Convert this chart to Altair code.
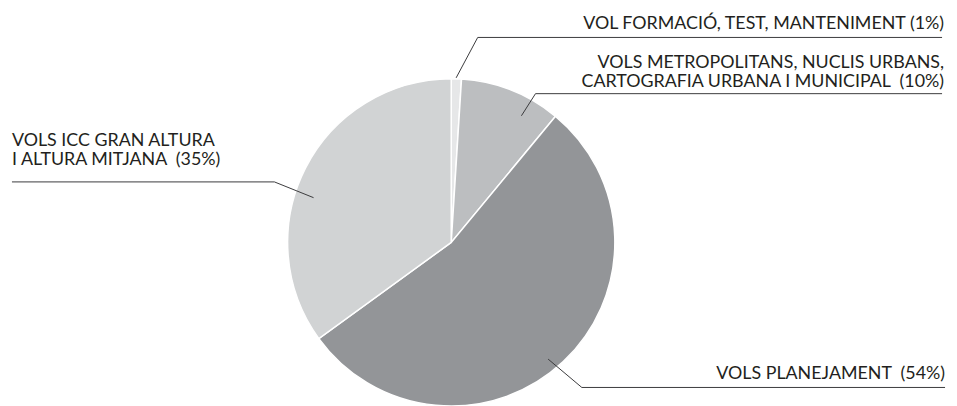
import math
import altair as alt
import pandas as pd

# ---- data ----
categories = [
    "VOL FORMACIÓ, TEST, MANTENIMENT",
    "VOLS METROPOLITANS, NUCLIS URBANS, CARTOGRAFIA URBANA I MUNICIPAL",
    "VOLS PLANEJAMENT",
    "VOLS ICC GRAN ALTURA I ALTURA MITJANA",
]
shares = [1, 10, 54, 35]
colors = ["#e6e7e8", "#bcbec0", "#939598", "#d1d3d4"]

NB = "\u00a0"
label_lines = [
    ["VOL FORMACIÓ, TEST, MANTENIMENT (1%)"],
    ["VOLS METROPOLITANS, NUCLIS URBANS,", "CARTOGRAFIA URBANA I MUNICIPAL" + NB + NB + "(10%)"],
    ["VOLS PLANEJAMENT" + NB + NB + "(54%)"],
    ["VOLS ICC GRAN ALTURA", "I ALTURA MITJANA" + NB + NB + "(35%)"],
]

# ---- layout (pixels of the plot area) ----
W, H = 949, 398
CX, CY, R = 447, 234.7, 165

# leader line anchors: angle (deg, clockwise from 12 o'clock) and radius on the pie
leader_angle = [1.7, 29.0, 140.3, 288.0]
leader_radius = [166, 146, 153, 146]
elbow = [(473.7, 28), (532, 84.7), (578.7, 381), (268.7, 173.7)]
line_end_x = [942, 942, 945, 4]
text_x = [944, 944, 945, 4]
text_y0 = [19.7, 58.7, 372, 137]
text_align = ["right", "right", "right", "left"]
LINE_H = 19.3

pie_df = pd.DataFrame({
    "cat": categories,
    "share": shares,
    "order": list(range(len(categories))),
})

lead_rows = []
for i in range(len(categories)):
    a = math.radians(leader_angle[i])
    sx = CX + leader_radius[i] * math.sin(a)
    sy = CY - leader_radius[i] * math.cos(a)
    pts = [(sx, sy), elbow[i], (line_end_x[i], elbow[i][1])]
    for k, (px, py) in enumerate(pts):
        lead_rows.append({"id": i, "k": k, "x": px, "y": py})
lead_df = pd.DataFrame(lead_rows)

text_rows = []
for i, lines in enumerate(label_lines):
    for j, t in enumerate(lines):
        text_rows.append({"id": i, "t": t, "x": text_x[i],
                          "y": text_y0[i] + j * LINE_H, "align": text_align[i]})
text_df = pd.DataFrame(text_rows)

xs = alt.Scale(domain=[0, W], range=[0, W])
ys = alt.Scale(domain=[0, H], range=[0, H])

pie = alt.Chart(pie_df).mark_arc(
    outerRadius=R, stroke="white", strokeWidth=1.5
).encode(
    theta=alt.Theta("share:Q", stack=True),
    order=alt.Order("order:Q"),
    color=alt.Color("cat:N", scale=alt.Scale(domain=categories, range=colors), legend=None),
    x=alt.value(CX),
    y=alt.value(CY),
)

leaders = alt.Chart(lead_df).mark_line(color="#3a3a3c", strokeWidth=1).encode(
    x=alt.X("x:Q", scale=xs, axis=None),
    y=alt.Y("y:Q", scale=ys, axis=None),
    detail="id:N",
    order="k:Q",
)

font = "Lato"
FS = 18
txt_r = alt.Chart(text_df[text_df["align"] == "right"]).mark_text(
    align="right", baseline="alphabetic", font=font, fontSize=FS, color="#231f20"
).encode(
    x=alt.X("x:Q", scale=xs, axis=None),
    y=alt.Y("y:Q", scale=ys, axis=None),
    text="t:N",
)
txt_l = alt.Chart(text_df[text_df["align"] == "left"]).mark_text(
    align="left", baseline="alphabetic", font=font, fontSize=FS, color="#231f20"
).encode(
    x=alt.X("x:Q", scale=xs, axis=None),
    y=alt.Y("y:Q", scale=ys, axis=None),
    text="t:N",
)

chart = alt.layer(pie, leaders, txt_r, txt_l).resolve_scale(
    color="independent"
).properties(
    width=W, height=H, padding=0,
    autosize=alt.AutoSizeParams(type="none"),
    background="white",
).configure_view(stroke=None)

chart.save("out.html", embed_options={"renderer": "svg", "actions": False})
